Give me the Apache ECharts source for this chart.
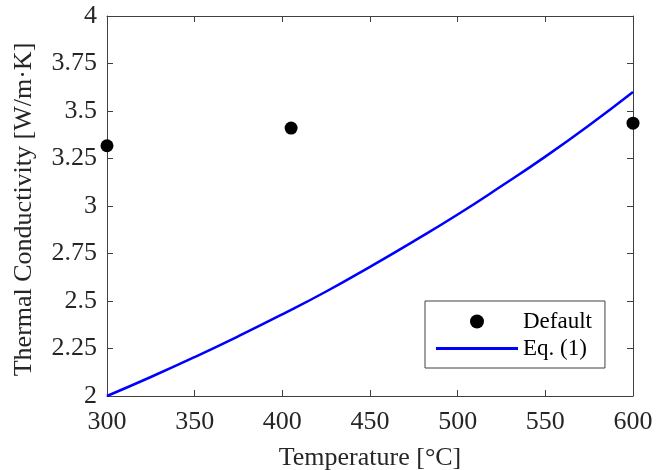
<!DOCTYPE html>
<html>
<head>
<meta charset="utf-8">
<script src="https://cdn.jsdelivr.net/npm/echarts@6/dist/echarts.min.js"></script>
<style>html,body{margin:0;padding:0;background:#fff}#c{width:666px;height:470px}</style>
</head>
<body>
<div id="c"></div>
<script>
// Data
const defaultTemps = [300, 405, 600];
const defaultValues = [3.317, 3.41, 3.436];
const eqTemps = [300, 325, 350, 375, 400, 425, 450, 475, 500, 525, 550, 575, 600];
const eqValues = [2.00, 2.10, 2.205, 2.315, 2.43, 2.55, 2.68, 2.815, 2.955, 3.105, 3.26, 3.425, 3.60];
const xTicks = [300, 350, 400, 450, 500, 550, 600];
const yTicks = [2, 2.25, 2.5, 2.75, 3, 3.25, 3.5, 3.75, 4];

const font = 'Liberation Serif';
const axisColor = '#404040';
const textColor = '#262626';

const chart = echarts.init(document.getElementById('c'));
const axisBase = {
  axisLine: {show: true, onZero: false, lineStyle: {color: axisColor, width: 1}},
  axisTick: {show: true, inside: true, length: 6, lineStyle: {color: axisColor}},
  splitLine: {show: false}
};
chart.setOption({
  animation: false,
  backgroundColor: '#fff',
  grid: {left: 107, right: 33, top: 16, bottom: 74, containLabel: false, outerBoundsMode: 'none'},
  xAxis: [
    Object.assign({}, axisBase, {
      type: 'value', min: xTicks[0], max: xTicks[xTicks.length - 1], interval: 50,
      name: 'Temperature [°C]', nameLocation: 'middle', nameGap: 49,
      nameTextStyle: {fontFamily: font, fontSize: 26, color: textColor},
      axisLabel: {fontFamily: font, fontSize: 26, color: textColor, margin: 13}
    }),
    Object.assign({}, axisBase, {
      type: 'value', position: 'top', min: 300, max: 600, interval: 50,
      axisLabel: {show: false}
    })
  ],
  yAxis: [
    Object.assign({}, axisBase, {
      type: 'value', min: yTicks[0], max: yTicks[yTicks.length - 1], interval: 0.25,
      name: 'Thermal Conductivity [W/m·K]', nameLocation: 'middle', nameGap: 70,
      nameTextStyle: {fontFamily: font, fontSize: 26, color: textColor, padding: [0, 7, 0, 0]},
      axisLabel: {fontFamily: font, fontSize: 26, color: textColor, margin: 10,
        formatter: v => String(+v.toFixed(2))}
    }),
    Object.assign({}, axisBase, {
      type: 'value', position: 'right', min: 2, max: 4, interval: 0.25,
      axisLabel: {show: false}
    })
  ],
  legend: {
    orient: 'vertical', left: 425, top: 301,
    backgroundColor: '#fff', borderColor: axisColor, borderWidth: 1,
    padding: [9, 13, 8, 11], itemGap: 4, itemWidth: 82, itemHeight: 14,
    textStyle: {fontFamily: font, fontSize: 23, color: '#000'},
    data: [
      {name: 'Default', icon: 'circle'},
      {name: 'Eq. (1)', icon: 'path://M0,0 L82,0 L82,3 L0,3 Z'}
    ]
  },
  series: [
    {
      name: 'Default', type: 'scatter', symbol: 'circle', symbolSize: 13,
      itemStyle: {color: '#000', opacity: 1}, z: 3,
      data: defaultTemps.map((t, i) => [t, defaultValues[i]])
    },
    {
      name: 'Eq. (1)', type: 'line', smooth: true, showSymbol: false,
      lineStyle: {color: '#0000ff', width: 2.5}, itemStyle: {color: '#0000ff'},
      data: eqTemps.map((t, i) => [t, eqValues[i]])
    }
  ]
});
</script>
</body>
</html>
